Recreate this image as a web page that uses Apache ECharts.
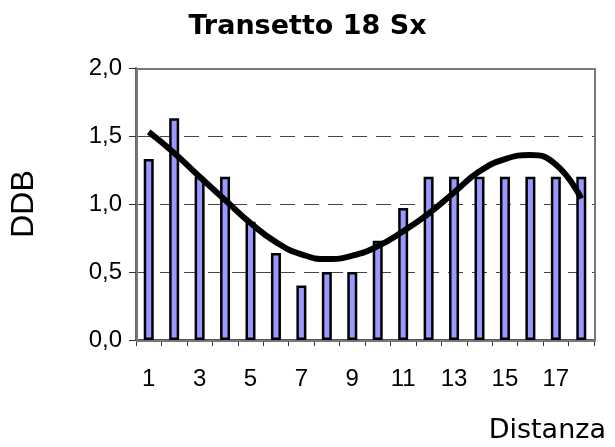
<!DOCTYPE html>
<html>
<head>
<meta charset="utf-8">
<script src="https://cdn.jsdelivr.net/npm/echarts@6/dist/echarts.min.js"></script>
<style>
  html, body { margin: 0; padding: 0; background: #fff; }
  #chart { width: 615px; height: 447px; }
</style>
</head>
<body>
<div id="chart"></div>
<script>
// Distance stations along the transect
const categories = ['1','2','3','4','5','6','7','8','9','10','11','12','13','14','15','16','17','18'];
// DDB measured at each station
const ddbValues = [1.33, 1.63, 1.2, 1.2, 0.87, 0.64, 0.4, 0.5, 0.5, 0.73, 0.97, 1.2, 1.2, 1.2, 1.2, 1.2, 1.2, 1.2];
// Polynomial trend curve evaluated at each station
const trendValues = [1.53, 1.375, 1.2, 1.03, 0.86, 0.72, 0.63, 0.595, 0.62, 0.69, 0.8, 0.93, 1.085, 1.24, 1.33, 1.36, 1.29, 1.04];
// Value axis ticks
const yTicks = [0, 0.5, 1.0, 1.5, 2.0];

// Plot area placement
const plot = { left: 136, right: 21, top: 68, bottom: 107 };

const chart = echarts.init(document.getElementById('chart'), null, { renderer: 'canvas' });

const fmt = v => v.toFixed(1).replace('.', ',');

chart.setOption({
  animation: false,
  backgroundColor: '#ffffff',
  title: {
    text: 'Transetto 18 Sx',
    left: 'center',
    top: 8,
    textStyle: { fontFamily: 'DejaVu Sans', fontWeight: 'bold', fontSize: 27, color: '#000' }
  },
  grid: { left: plot.left, right: plot.right, top: plot.top, bottom: plot.bottom, containLabel: false },
  xAxis: {
    type: 'category',
    data: categories,
    boundaryGap: true,
    axisLine: { show: true, onZero: false, lineStyle: { color: '#555', width: 2 } },
    axisTick: { show: true, interval: 0, length: 6, lineStyle: { color: '#333', width: 1 } },
    axisLabel: { interval: 1, fontFamily: 'Liberation Sans', fontSize: 24, color: '#000', margin: 27 },
    splitLine: { show: false }
  },
  yAxis: {
    type: 'value',
    min: yTicks[0],
    max: yTicks[yTicks.length - 1],
    interval: 0.5,
    name: 'DDB',
    nameLocation: 'middle',
    nameRotate: 90,
    nameGap: 96,
    nameTextStyle: { fontFamily: 'Liberation Sans', fontSize: 32, color: '#000' },
    axisLine: { show: true, onZero: false, lineStyle: { color: '#666', width: 2 } },
    axisTick: { show: true, length: 7, lineStyle: { color: '#333', width: 1 } },
    axisLabel: { formatter: fmt, fontFamily: 'Liberation Sans', fontSize: 24, color: '#000', margin: 14 },
    splitLine: {
      show: true,
      showMinLine: false,
      showMaxLine: false,
      lineStyle: { color: '#444', width: 1, type: [15, 9] }
    }
  },
  graphic: [
    // grey frame around the plot area (left and bottom are covered by the axes)
    {
      type: 'rect',
      left: plot.left,
      top: plot.top,
      z: 50,
      silent: true,
      shape: { x: 0, y: 0, width: 615 - plot.left - plot.right, height: 447 - plot.top - plot.bottom },
      style: { fill: 'rgba(0,0,0,0)', stroke: '#777777', lineWidth: 2 }
    },
    {
      type: 'text',
      right: 9,
      top: 417,
      style: { text: 'Distanza', font: '27px "DejaVu Sans"', fill: '#000' }
    }
  ],
  series: [
    {
      name: 'DDB',
      type: 'bar',
      data: ddbValues,
      barWidth: 10,
      itemStyle: { color: '#9999FF', borderColor: '#000', borderWidth: 2.5 },
      z: 2
    },
    {
      name: 'Tendenza',
      type: 'line',
      data: trendValues,
      smooth: 0.5,
      symbol: 'none',
      lineStyle: { color: '#000', width: 6 },
      z: 3
    }
  ]
});
</script>
</body>
</html>
